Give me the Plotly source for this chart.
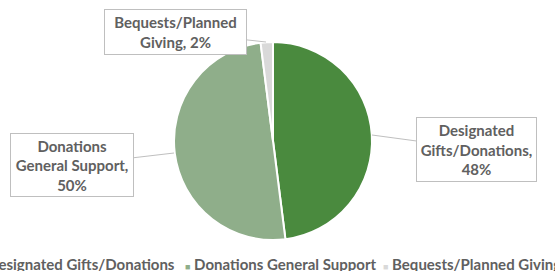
import plotly.graph_objects as go

categories = ["Designated Gifts/Donations", "Donations General Support", "Bequests/Planned Giving"]
values = [48, 50, 2]
colors = ["#4a8a3e", "#8fae8a", "#d9d9d9"]
label_lines = [["Designated", "Gifts/Donations,"], ["Donations", "General Support,"], ["Bequests/Planned", "Giving,"]]

W, H = 555, 271
TXT = "#606060"
FONT = "Lato"
FS = 15

fig = go.Figure(go.Pie(
    labels=categories, values=values, sort=False, direction="clockwise", rotation=0,
    marker=dict(colors=colors, line=dict(color="white", width=2)),
    textinfo="none", hoverinfo="label+percent", showlegend=False,
    domain=dict(x=[174 / W, 372 / W], y=[1 - 240 / H, 1 - 42 / H]),
))

total = sum(values)
pct = [f"{round(v * 100 / total)}%" for v in values]
texts = [
    "<br>".join(label_lines[0] + [pct[0]]),
    "<br>".join(label_lines[1] + [pct[1]]),
    label_lines[2][0] + "<br>" + label_lines[2][1] + " " + pct[2],
]

# callout label layout: (arrow tip px, box center px, box w, box h)
callouts = [
    ((372, 135), (476, 149), 121, 65),
    ((174, 153), (72, 165), 124, 64),
    ((266, 42), (175, 32), 143, 46),
]
for t, (tip, ctr, bw, bh) in zip(texts, callouts):
    fig.add_annotation(
        x=tip[0] / W, y=1 - tip[1] / H, xref="paper", yref="paper",
        ax=ctr[0] - tip[0], ay=ctr[1] - tip[1],
        text=t, showarrow=True, arrowhead=0, arrowwidth=1, arrowcolor="#bfbfbf",
        bgcolor="white", bordercolor="#bfbfbf", borderwidth=1, borderpad=0,
        width=bw - 2, height=bh - 2, align="center", valign="middle",
        font=dict(family=FONT, size=FS, color=TXT, weight="bold"),
    )

# legend row
legend_x = [-24, 183, 381]
for name, col, lx in zip(categories, colors, legend_x):
    fig.add_annotation(
        x=lx / W, y=1 - 264 / H, xref="paper", yref="paper", xanchor="left", yanchor="middle",
        showarrow=False,
        text=f"<span style='color:{col};font-size:9px'>■</span> {name}",
        font=dict(family=FONT, size=FS, color=TXT, weight="bold"),
    )

fig.update_layout(
    width=W, height=H, margin=dict(l=0, r=0, t=0, b=0),
    paper_bgcolor="white", plot_bgcolor="white", showlegend=False,
)
fig.write_html("out.html", post_script="document.body.style.margin='0';",
               config={"displayModeBar": False})
